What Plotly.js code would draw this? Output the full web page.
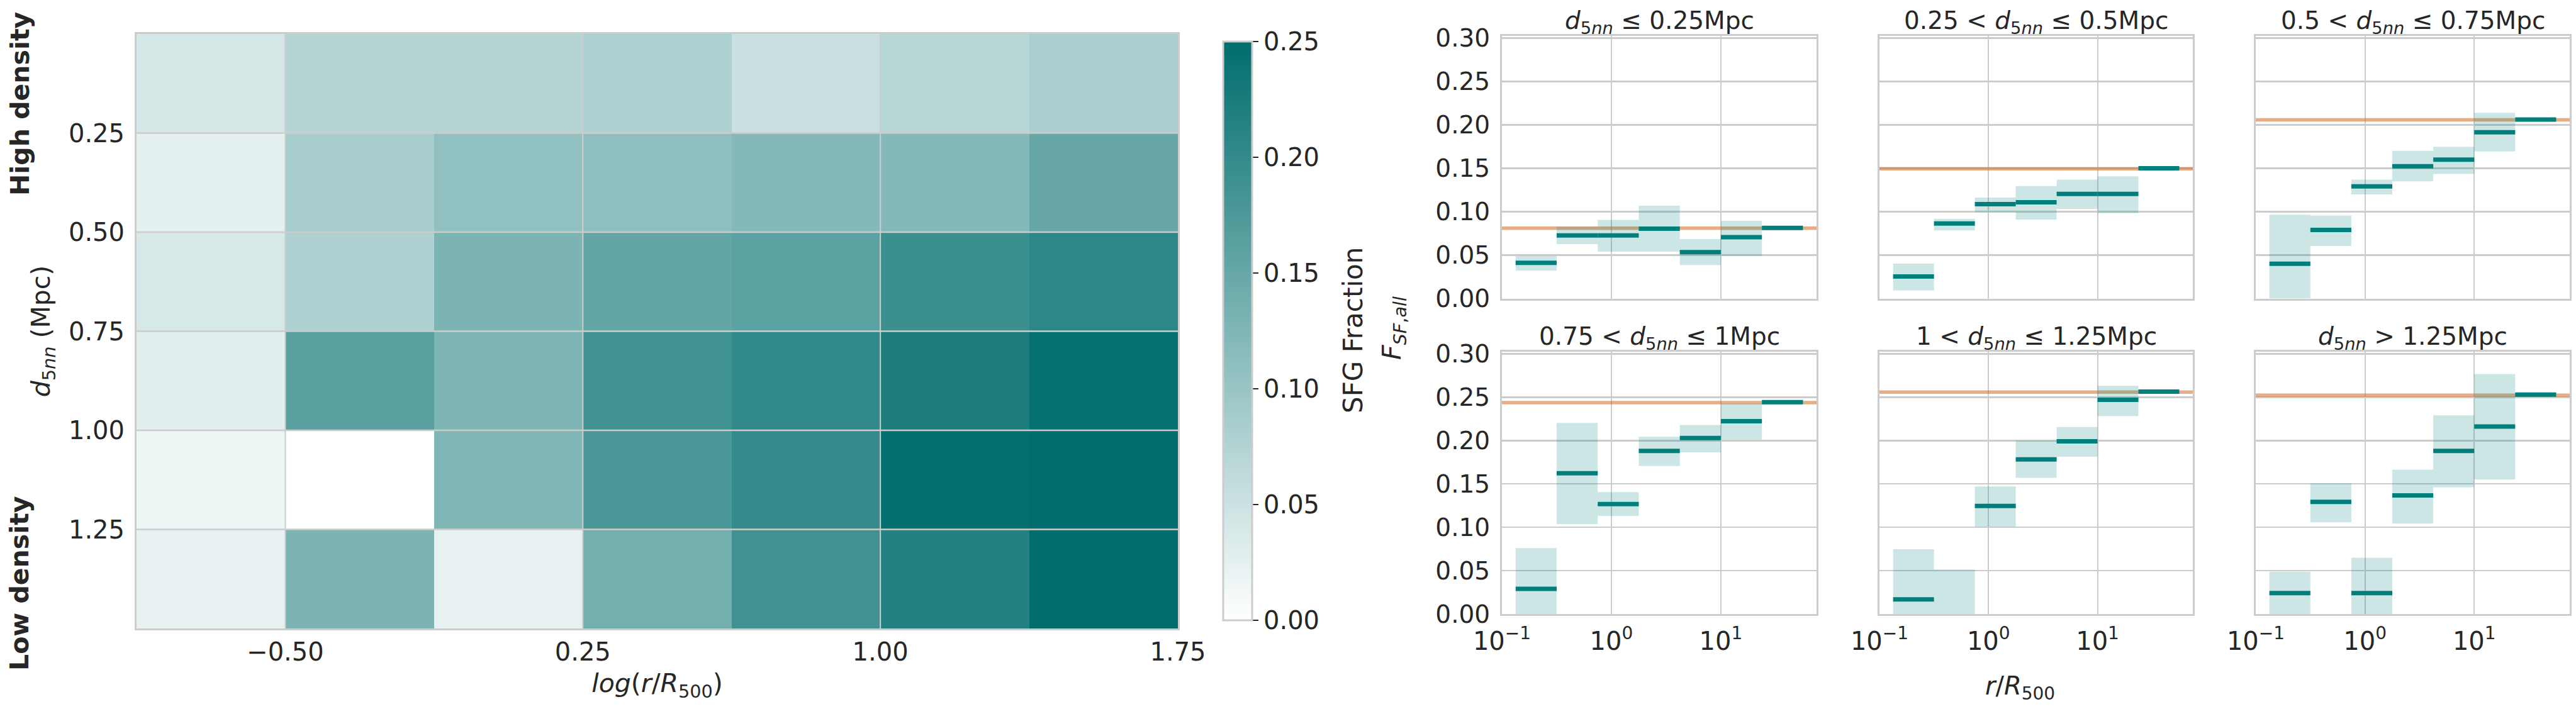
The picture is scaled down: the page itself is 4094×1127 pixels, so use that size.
<!DOCTYPE html>
<html><head><meta charset="utf-8">
<script src="https://cdn.plot.ly/plotly-3.0.1.min.js"></script>
<style>html,body{margin:0;padding:0;background:#fff}</style></head>
<body><div id="chart" style="width:4094px;height:1127px"></div>
<script>
// ---------- data ----------
const radiusEdges = [0.1334, 0.3162, 0.7499, 1.778, 4.217, 10, 23.71, 56.23];
const logRadiusEdges = [-0.875, -0.5, -0.125, 0.25, 0.625, 1.0, 1.375, 1.75];
const densityEdges = [0, 0.25, 0.5, 0.75, 1.0, 1.25, 1.5];
const logRadiusTicks = [-0.5, 0.25, 1.0, 1.75];
const densityTicks = [0.25, 0.5, 0.75, 1.0, 1.25];

const fraction1 = [0.0411, 0.0727, 0.0727, 0.0804, 0.0535, 0.0707, 0.0814];
const low1      = [0.0320, 0.0627, 0.0540, 0.0540, 0.0386, 0.0490, null];
const high1     = [0.0490, 0.0827, 0.0906, 0.1068, 0.0685, 0.0894, null];
const fraction2 = [0.0254, 0.0864, 0.1086, 0.1108, 0.1205, 0.1205, 0.1499];
const low2      = [0.0092, 0.0784, 0.0994, 0.0909, 0.1033, 0.0984, null];
const high2     = [0.0403, 0.0919, 0.1163, 0.1295, 0.1370, 0.1407, null];
const fraction3 = [0.0401, 0.0789, 0.1292, 0.1524, 0.1599, 0.1915, 0.2062];
const low3      = [0.0000, 0.0605, 0.1200, 0.1350, 0.1434, 0.1693, null];
const high3     = [0.0966, 0.0954, 0.1370, 0.1700, 0.1748, 0.2139, null];
const fraction4 = [0.0290, 0.1623, 0.1267, 0.1881, 0.2029, 0.2223, 0.2443];
const low4      = [0.0000, 0.1035, 0.1130, 0.1707, 0.1864, 0.2012, null];
const high4     = [0.0759, 0.2203, 0.1406, 0.2043, 0.2180, 0.2424, null];
const fraction5 = [0.0168, 0.0000, 0.1246, 0.1783, 0.1991, 0.2470, 0.2565];
const low5      = [0.0000, 0.0000, 0.1006, 0.1571, 0.1814, 0.2281, null];
const high5     = [0.0748, 0.0513, 0.1470, 0.2000, 0.2157, 0.2632, null];
const fraction6 = [0.0241, 0.1293, 0.0241, 0.1368, 0.1881, 0.2162, 0.2530];
const low6      = [0.0000, 0.1058, 0.0000, 0.1043, 0.1461, 0.1551, null];
const high6     = [0.0487, 0.1507, 0.0649, 0.1664, 0.2290, 0.2768, null];
const fieldLevels = [0.081, 0.1494, 0.2057, 0.2438, 0.2559, 0.2522];

const panelTitles = [
  '<i>d</i><sub>5<i>nn</i></sub> ≤ 0.25Mpc',
  '0.25 &lt; <i>d</i><sub>5<i>nn</i></sub> ≤ 0.5Mpc',
  '0.5 &lt; <i>d</i><sub>5<i>nn</i></sub> ≤ 0.75Mpc',
  '0.75 &lt; <i>d</i><sub>5<i>nn</i></sub> ≤ 1Mpc',
  '1 &lt; <i>d</i><sub>5<i>nn</i></sub> ≤ 1.25Mpc',
  '<i>d</i><sub>5<i>nn</i></sub> &gt; 1.25Mpc'
];
const fractionTicks = [0, 0.05, 0.10, 0.15, 0.20, 0.25, 0.30];
const radiusTicks = [0.1, 1, 10];
const radiusTickLabels = ['10<sup>−1</sup>', '10<sup>0</sup>', '10<sup>1</sup>'];
const colorStops = [[0, '#ffffff'], [1, '#016d6d']];

// ---------- layout helpers ----------
const W = 4094, H = 1127;
const INK = '#262626', GRID = '#cccccc', TEAL = '#007f7c';
const dx = (a, b) => [a / W, b / W];
const dy = (top, bottom) => [1 - bottom / H, 1 - top / H];
const px = x => x / W, py = y => 1 - y / H;

const fractions = [fraction1, fraction2, fraction3, fraction4, fraction5, fraction6];
const lows = [low1, low2, low3, low4, low5, low6];
const highs = [high1, high2, high3, high4, high5, high6];

const traces = [{
  type: 'heatmap', x: logRadiusEdges, y: densityEdges, z: fractions,
  xaxis: 'x', yaxis: 'y', zmin: 0, zmax: 0.25, colorscale: colorStops, hoverinfo: 'skip',
  colorbar: {
    x: px(1944), xanchor: 'left', y: py(526), yanchor: 'middle',
    thickness: 46, thicknessmode: 'pixels', len: 920, lenmode: 'pixels', xpad: 0, ypad: 0,
    outlinecolor: GRID, outlinewidth: 3, borderwidth: 0,
    tickmode: 'linear', tick0: 0, dtick: 0.05, tickformat: '.2f',
    ticks: 'outside', ticklen: 9, tickwidth: 2, tickcolor: INK,
    tickfont: {size: 40, color: INK}
  }
}];

const columns = [[2387, 2887], [2987, 3485], [3585, 4084]];
const rows = [[57, 474.5], [559, 976]];
const layout = {
  width: W, height: H, autosize: false, showlegend: false, hovermode: false,
  margin: {l: 0, r: 0, t: 0, b: 0}, paper_bgcolor: '#fff', plot_bgcolor: '#fff',
  font: {family: '"DejaVu Sans", sans-serif', color: INK, size: 40},
  xaxis: {
    domain: dx(217, 1872), range: [-0.875, 1.75], tickmode: 'array', tickvals: logRadiusTicks,
    tickformat: '.2f', showgrid: false, zeroline: false, showline: true, mirror: true,
    linecolor: GRID, linewidth: 3, ticks: '', tickfont: {size: 40, color: INK}, automargin: false,
    title: {text: '<i>log</i>(<i>r</i>/<i>R</i><sub>500</sub>)', font: {size: 41, color: INK}, standoff: 14}
  },
  yaxis: {
    domain: dy(54, 999), range: [1.5, 0], tickmode: 'array', tickvals: densityTicks,
    tickformat: '.2f', showgrid: false, zeroline: false, showline: true, mirror: true, ticklabelstandoff: 8,
    linecolor: GRID, linewidth: 3, ticks: '', tickfont: {size: 40, color: INK}, automargin: false,
    title: {text: '<i>d</i><sub>5<i>nn</i></sub> (Mpc)', font: {size: 41, color: INK}, standoff: 17}
  },
  shapes: [], annotations: []
};

// heatmap grid sits over the cells, at the tick positions
logRadiusTicks.slice(0, -1).forEach(v => layout.shapes.push({type: 'line', xref: 'x', yref: 'y',
  x0: v, x1: v, y0: 0, y1: 1.5, line: {color: GRID, width: 2}, layer: 'above'}));
densityTicks.forEach(v => layout.shapes.push({type: 'line', xref: 'x', yref: 'y',
  x0: -0.875, x1: 1.75, y0: v, y1: v, line: {color: GRID, width: 2.5}, layer: 'above'}));

fractions.forEach((vals, i) => {
  const n = i + 2, c = i % 3, r = Math.floor(i / 3);
  const xa = 'x' + n, ya = 'y' + n;
  layout['xaxis' + n] = {
    domain: dx(columns[c][0], columns[c][1]), type: 'log', range: [-1, 1.874], anchor: ya,
    tickmode: 'array', tickvals: radiusTicks, ticktext: radiusTickLabels, ticklabelstandoff: 6,
    showticklabels: r === 1, showgrid: true, gridcolor: GRID, gridwidth: 2, zeroline: false,
    showline: true, mirror: true, linecolor: GRID, linewidth: 3, ticks: '',
    tickfont: {size: 40, color: INK}
  };
  layout['yaxis' + n] = {
    domain: dy(rows[r][0], rows[r][1]), range: [0, 0.3025], anchor: xa,
    tickmode: 'array', tickvals: fractionTicks, tickformat: '.2f', ticklabelstandoff: 8,
    showticklabels: c === 0, showgrid: true, gridcolor: GRID, gridwidth: 2.5, zeroline: false,
    showline: true, mirror: true, linecolor: GRID, linewidth: 3, ticks: '',
    tickfont: {size: 39, color: INK}
  };
  // field level
  traces.push({type: 'scatter', mode: 'lines', xaxis: xa, yaxis: ya, hoverinfo: 'skip',
    x: [0.1, 74.8], y: [fieldLevels[i], fieldLevels[i]],
    line: {color: 'rgba(208,108,35,0.55)', width: 5.5}});
  // uncertainty boxes
  vals.forEach((v, k) => {
    if (lows[i][k] === null) return;
    const a = radiusEdges[k], b = radiusEdges[k + 1];
    traces.push({type: 'scatter', mode: 'lines', xaxis: xa, yaxis: ya, hoverinfo: 'skip',
      x: [a, b, b, a, a], y: [lows[i][k], lows[i][k], highs[i][k], highs[i][k], lows[i][k]],
      fill: 'toself', fillcolor: 'rgba(0,128,128,0.2)', line: {width: 0, color: 'rgba(0,0,0,0)'}});
  });
  // bin values (a zero fraction sits on the axis and does not show)
  vals.forEach((v, k) => {
    if (v === 0) return;
    traces.push({type: 'scatter', mode: 'lines', xaxis: xa, yaxis: ya, hoverinfo: 'skip',
      x: [radiusEdges[k], radiusEdges[k + 1]], y: [v, v], line: {color: TEAL, width: 7}});
  });
  layout.annotations.push({xref: 'paper', yref: 'paper', x: px((columns[c][0] + columns[c][1]) / 2),
    y: py(rows[r][0] + 5), xanchor: 'center', yanchor: 'bottom', showarrow: false,
    text: panelTitles[i], font: {size: 39, color: INK}});
});

const note = (text, x, y, size, angle, bold) => layout.annotations.push({
  xref: 'paper', yref: 'paper', x: px(x), y: py(y), xanchor: 'center', yanchor: 'middle',
  showarrow: false, textangle: angle, text: bold ? '<b>' + text + '</b>' : text,
  font: {size: size, color: INK}});
note('High density', 32, 165, 41, -90, true);
note('Low density', 31, 927, 41, -90, true);
note('SFG Fraction', 2150, 525, 42, -90, false);
note('<i>F</i><sub><i>SF</i>,<i>all</i></sub>', 2215, 522, 41, -90, false);
note('<i>r</i>/<i>R</i><sub>500</sub>', 3210, 1093, 40, 0, false);

Plotly.newPlot('chart', traces, layout, {displayModeBar: false, staticPlot: true});
</script></body></html>
